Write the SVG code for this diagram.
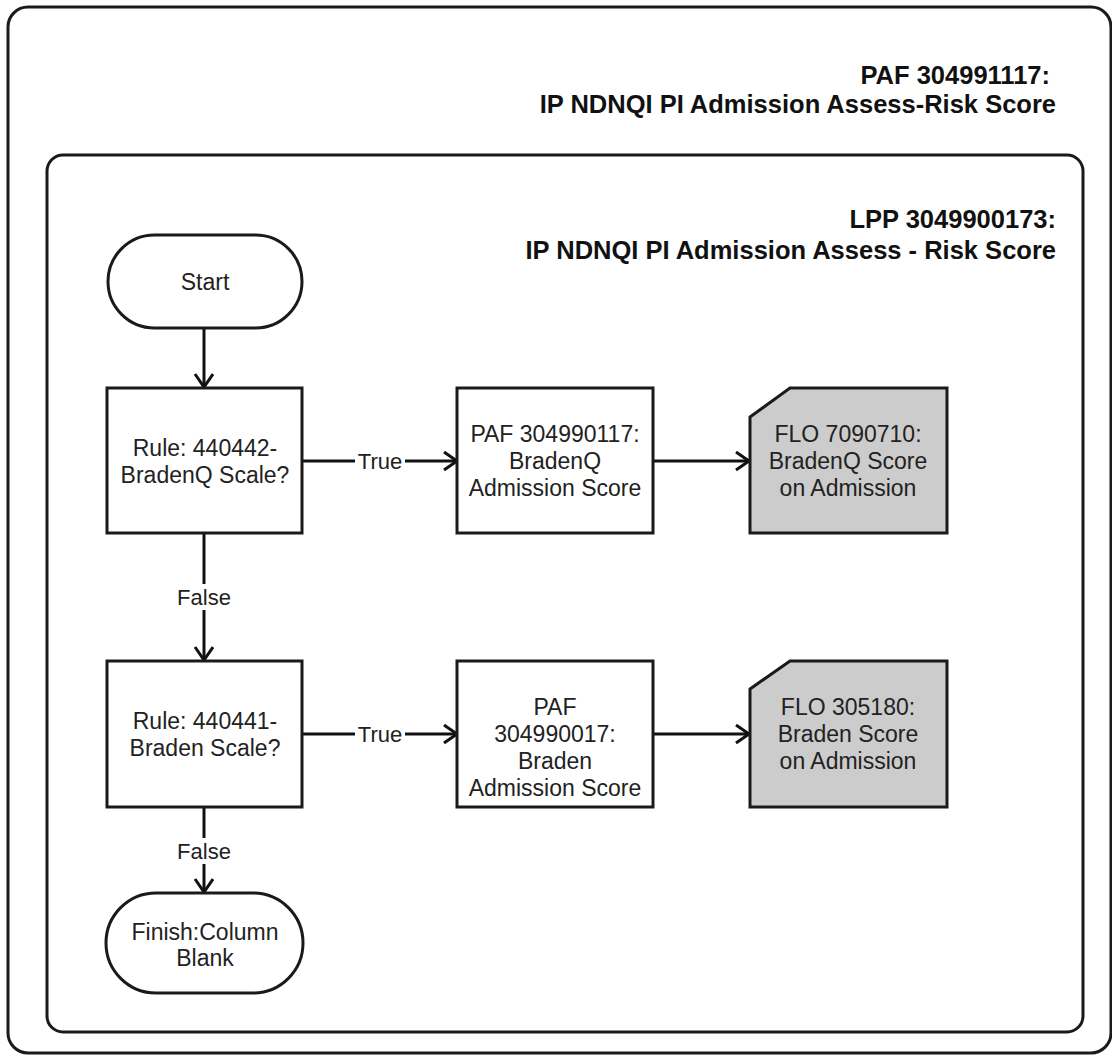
<svg xmlns="http://www.w3.org/2000/svg" width="1112" height="1057" viewBox="0 0 1112 1057">
  <style>
    .frame { fill: #ffffff; stroke: #1a1a1a; stroke-width: 3; }
    .box { fill: #ffffff; stroke: #1a1a1a; stroke-width: 3; }
    .data { fill: #cccccc; stroke: #1a1a1a; stroke-width: 3; }
    .t { font-family: "Liberation Sans", Arial, sans-serif; font-size: 23px; fill: #222222; text-anchor: middle; }
    .lbl { font-family: "Liberation Sans", Arial, sans-serif; font-size: 22px; fill: #222222; text-anchor: middle; }
    .title { font-family: "Liberation Sans", Arial, sans-serif; font-size: 25.5px; font-weight: bold; fill: #111111; text-anchor: end; }
    .edge { fill: none; stroke: #111111; stroke-width: 3; }
  </style>
  <defs>
    <marker id="arr" markerUnits="userSpaceOnUse" markerWidth="20" markerHeight="22" refX="15" refY="10" orient="auto">
      <path d="M2,1 L15,10 L2,19" fill="none" stroke="#111111" stroke-width="3"/>
    </marker>
  </defs>

  <g id="outer-container">
    <rect class="frame" x="8" y="7" width="1103" height="1046" rx="20" ry="20"/>
    <text class="title" x="1050" y="84">PAF 304991117:</text>
    <text class="title" x="1056" y="113">IP NDNQI PI Admission Assess-Risk Score</text>
  </g>

  <g id="inner-container">
    <rect class="frame" x="47" y="155" width="1036" height="877" rx="16" ry="16"/>
    <text class="title" x="1056" y="228">LPP 3049900173:</text>
    <text class="title" x="1056" y="259">IP NDNQI PI Admission Assess - Risk Score</text>
  </g>

  <g id="connectors">
    <line class="edge" x1="204" y1="328" x2="204" y2="387" marker-end="url(#arr)"/>
    <line class="edge" x1="302" y1="461" x2="457" y2="461" marker-end="url(#arr)"/>
    <line class="edge" x1="653" y1="461" x2="749" y2="461" marker-end="url(#arr)"/>
    <line class="edge" x1="204" y1="533" x2="204" y2="660" marker-end="url(#arr)"/>
    <line class="edge" x1="302" y1="734" x2="457" y2="734" marker-end="url(#arr)"/>
    <line class="edge" x1="653" y1="734" x2="749" y2="734" marker-end="url(#arr)"/>
    <line class="edge" x1="204" y1="807" x2="204" y2="892" marker-end="url(#arr)"/>
    <g id="edge-labels">
      <rect x="355" y="449" width="50" height="24" fill="#ffffff"/>
      <text class="lbl" x="380" y="469">True</text>
      <rect x="355" y="722" width="50" height="24" fill="#ffffff"/>
      <text class="lbl" x="380" y="742">True</text>
      <rect x="174" y="584" width="60" height="26" fill="#ffffff"/>
      <text class="lbl" x="204" y="605">False</text>
      <rect x="174" y="838" width="60" height="26" fill="#ffffff"/>
      <text class="lbl" x="204" y="859">False</text>
    </g>
  </g>

  <g id="start">
    <rect class="box" x="108" y="235" width="194" height="93" rx="46.5" ry="46.5"/>
    <text class="t" x="205" y="290">Start</text>
  </g>

  <g id="rule-440442">
    <rect class="box" x="107" y="388" width="195" height="145"/>
    <text class="t" x="205" y="456">Rule: 440442-</text>
    <text class="t" x="205" y="483">BradenQ Scale?</text>
  </g>

  <g id="paf-304990117">
    <rect class="box" x="457" y="388" width="196" height="145"/>
    <text class="t" x="555" y="442">PAF 304990117:</text>
    <text class="t" x="555" y="469">BradenQ</text>
    <text class="t" x="555" y="496">Admission Score</text>
  </g>

  <g id="flo-7090710">
    <path class="data" d="M750,417 L790,388 L947,388 L947,533 L750,533 Z"/>
    <text class="t" x="848" y="442">FLO 7090710:</text>
    <text class="t" x="848" y="469">BradenQ Score</text>
    <text class="t" x="848" y="496">on Admission</text>
  </g>

  <g id="rule-440441">
    <rect class="box" x="107" y="661" width="195" height="146"/>
    <text class="t" x="205" y="729">Rule: 440441-</text>
    <text class="t" x="205" y="756">Braden Scale?</text>
  </g>

  <g id="paf-304990017">
    <rect class="box" x="457" y="661" width="196" height="146"/>
    <text class="t" x="555" y="715">PAF</text>
    <text class="t" x="555" y="742">304990017:</text>
    <text class="t" x="555" y="769">Braden</text>
    <text class="t" x="555" y="796">Admission Score</text>
  </g>

  <g id="flo-305180">
    <path class="data" d="M750,689 L790,661 L947,661 L947,807 L750,807 Z"/>
    <text class="t" x="848" y="715">FLO 305180:</text>
    <text class="t" x="848" y="742">Braden Score</text>
    <text class="t" x="848" y="769">on Admission</text>
  </g>

  <g id="finish">
    <rect class="box" x="106" y="893" width="197" height="100" rx="50" ry="50"/>
    <text class="t" x="205" y="940">Finish:Column</text>
    <text class="t" x="205" y="966">Blank</text>
  </g>
</svg>
